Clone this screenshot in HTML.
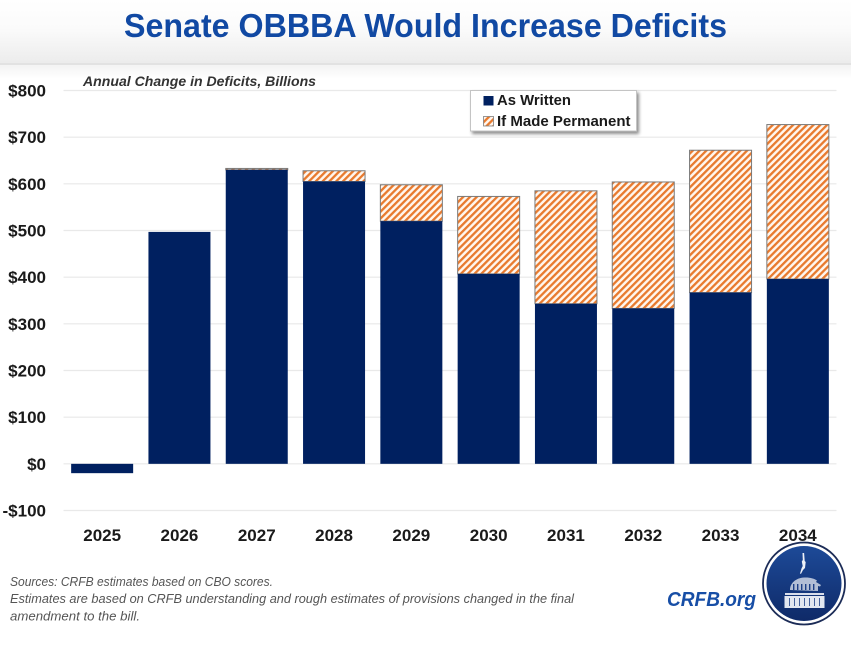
<!DOCTYPE html>
<html lang="en">
<head>
<meta charset="utf-8">
<title>Senate OBBBA Would Increase Deficits</title>
<style>
html,body{margin:0;padding:0;background:#fff;}
body{width:868px;height:652px;overflow:hidden;}
svg{display:block;font-family:"Liberation Sans",sans-serif;}
</style>
</head>
<body>
<svg id="chart" xmlns="http://www.w3.org/2000/svg" width="868" height="652" viewBox="0 0 868 652">
  <defs>
    <linearGradient id="headGrad" x1="0" y1="0" x2="0" y2="1">
      <stop offset="0" stop-color="#ffffff"/>
      <stop offset="0.45" stop-color="#fbfbfb"/>
      <stop offset="1" stop-color="#ececec"/>
    </linearGradient>
    <linearGradient id="headShade" x1="0" y1="0" x2="0" y2="1">
      <stop offset="0" stop-color="#f3f3f3"/>
      <stop offset="1" stop-color="#ffffff"/>
    </linearGradient>
    <linearGradient id="logoGrad" x1="0" y1="0" x2="0" y2="1">
      <stop offset="0" stop-color="#1d4a98"/>
      <stop offset="1" stop-color="#0f2a68"/>
    </linearGradient>
    <pattern id="hatch" patternUnits="userSpaceOnUse" width="4.8" height="4.8" patternTransform="rotate(45)">
      <rect width="4.8" height="4.8" fill="#fff6ee"/>
      <rect width="2.3" height="4.8" fill="#e87a2e"/>
    </pattern>
    <filter id="legendShadow" x="-10%" y="-20%" width="125%" height="150%">
      <feDropShadow dx="2" dy="2.5" stdDeviation="1.6" flood-color="#000" flood-opacity="0.45"/>
    </filter>
  </defs>

  <rect x="0" y="0" width="868" height="652" fill="#ffffff"/>
  <rect x="0" y="0" width="851" height="63" fill="url(#headGrad)"/>
  <rect x="0" y="63" width="851" height="2" fill="#e2e2e2"/>
  <rect x="0" y="65" width="851" height="14" fill="url(#headShade)"/>
  <text x="124" y="37" font-size="33" font-weight="700" fill="#1149a3" textLength="603" lengthAdjust="spacingAndGlyphs">Senate OBBBA Would Increase Deficits</text>
  <text x="83" y="86" font-size="14" font-weight="700" font-style="italic" fill="#333333" textLength="233" lengthAdjust="spacingAndGlyphs">Annual Change in Deficits, Billions</text>

  <g id="grid"></g>
  <g id="bars"></g>
  <g id="yAxis"></g>
  <g id="xAxis"></g>

  <g>
    <rect x="470.5" y="90.5" width="166" height="40.5" fill="#ffffff" stroke="#c4c4c4" stroke-width="1" filter="url(#legendShadow)"/>
    <rect x="483.5" y="96" width="10" height="9.5" fill="#002060"/>
    <text x="497" y="105" font-size="14.5" font-weight="700" fill="#1a1a1a" textLength="74" lengthAdjust="spacingAndGlyphs">As Written</text>
    <rect x="483.5" y="116.5" width="10" height="9.5" fill="url(#hatch)" stroke="#7f7f7f" stroke-width="0.8"/>
    <text x="497" y="126" font-size="14.5" font-weight="700" fill="#1a1a1a" textLength="133.5" lengthAdjust="spacingAndGlyphs">If Made Permanent</text>
  </g>

  <g font-size="13" font-style="italic" fill="#555555">
    <text x="10" y="586" textLength="263" lengthAdjust="spacingAndGlyphs">Sources: CRFB estimates based on CBO scores.</text>
    <text x="10" y="603" textLength="564" lengthAdjust="spacingAndGlyphs">Estimates are based on CRFB understanding and rough estimates of provisions changed in the final</text>
    <text x="10" y="620.5" textLength="130" lengthAdjust="spacingAndGlyphs">amendment to the bill.</text>
  </g>

  <text x="667" y="606" font-size="20" font-weight="700" font-style="italic" fill="#174ea6" textLength="89" lengthAdjust="spacingAndGlyphs">CRFB.org</text>

  <g>
    <circle cx="804" cy="583.500" r="41" fill="#ffffff" stroke="#1c2c57" stroke-width="1.8"/>
    <circle cx="804" cy="583.500" r="37.500" fill="url(#logoGrad)"/>
    <g fill="#eef1f7">
      <path d="M802.500 553h1.600l.6 8 1 1-.7 6-2 2-1.800 3.500-1.300.4 1.600-5.400 1.200-2.500-.9-4.500 1-1.500z"/>
      <path d="M790 590c0-7 6-12 14-12.500 6-.3 10 1 13 3l-1 1.500 5 3-1 1.500-2-.5v5z" opacity="0.72"/>
      <rect x="785" y="593" width="39" height="2" opacity="0.9"/>
      <rect x="784.500" y="596" width="40" height="12" opacity="0.95"/>
    </g>
    <g fill="#1d3f86">
      <rect x="793" y="584" width="1.400" height="6"/>
      <rect x="797" y="584" width="1.400" height="6"/>
      <rect x="801" y="584" width="1.400" height="6"/>
      <rect x="805" y="584" width="1.400" height="6"/>
      <rect x="809" y="584" width="1.400" height="6"/>
      <rect x="813" y="584" width="1.400" height="6"/>
      <rect x="789" y="598" width="0.800" height="8"/>
      <rect x="794" y="598" width="0.800" height="8"/>
      <rect x="799" y="598" width="0.800" height="8"/>
      <rect x="804" y="598" width="0.800" height="8"/>
      <rect x="809" y="598" width="0.800" height="8"/>
      <rect x="814" y="598" width="0.800" height="8"/>
      <rect x="819" y="598" width="0.800" height="8"/>
    </g>
  </g>
</svg>

<script>
const categories = ["2025","2026","2027","2028","2029","2030","2031","2032","2033","2034"];
const asWritten = [-20,497,630,605,520,407,343,333,367,396];
const ifMadePermanent = [0,0,3,23,78,166,242,271,305,331];
const tickValues = [-100,0,100,200,300,400,500,600,700,800];
const tickLabels = ["-$100","$0","$100","$200","$300","$400","$500","$600","$700","$800"];

const NS = "http://www.w3.org/2000/svg";
const plot = { left: 63.5, right: 836.5, top: 90.5, bottom: 510.5 };
const domainMin = -100;
const domainMax = 800;
const barWidth = 62;

function yScale(v) {
  return plot.bottom - (v - domainMin) / (domainMax - domainMin) * (plot.bottom - plot.top);
}
function xBand(i) {
  return plot.left + (plot.right - plot.left) / categories.length * (i + 0.5);
}
function make(tag, attrs, parent) {
  const el = document.createElementNS(NS, tag);
  Object.keys(attrs).forEach(function (k) { el.setAttribute(k, attrs[k]); });
  parent.appendChild(el);
  return el;
}

const gridGroup = document.getElementById("grid");
const barsGroup = document.getElementById("bars");
const yGroup = document.getElementById("yAxis");
const xGroup = document.getElementById("xAxis");

tickValues.forEach(function (v, i) {
  const line = make("line", { x1: plot.left, x2: plot.right, y1: yScale(v), y2: yScale(v), stroke: "#e9e9e9", "stroke-width": 1.2 }, gridGroup);
  
  
  const label = make("text", { x: 46, y: yScale(v) + 6, "text-anchor": "end", "font-size": 17, "font-weight": 700, fill: "#1a1a1a" }, yGroup);
  label.textContent = tickLabels[i];
  
  
});

categories.forEach(function (cat, i) {
  const cx = xBand(i);
  const x0 = cx - barWidth / 2;
  const w = asWritten[i];
  const p = ifMadePermanent[i];
  const top = yScale(Math.max(w, 0));
  const bottom = yScale(Math.min(w, 0));
  if (p > 0) {
    const hatch = make("rect", { x: x0, y: yScale(w + p), width: barWidth, height: yScale(w) - yScale(w + p), fill: "url(#hatch)", stroke: "#7a7a7a", "stroke-width": 1 }, barsGroup);
    
    
  }
  const bar = make("rect", { x: x0, y: top, width: barWidth, height: bottom - top, fill: "#002060" }, barsGroup);
  
  
  const label = make("text", { x: cx, y: 541, "text-anchor": "middle", "font-size": 17, "font-weight": 700, fill: "#1a1a1a" }, xGroup);
  label.textContent = cat;
  
  
});
</script>
</body>
</html>
